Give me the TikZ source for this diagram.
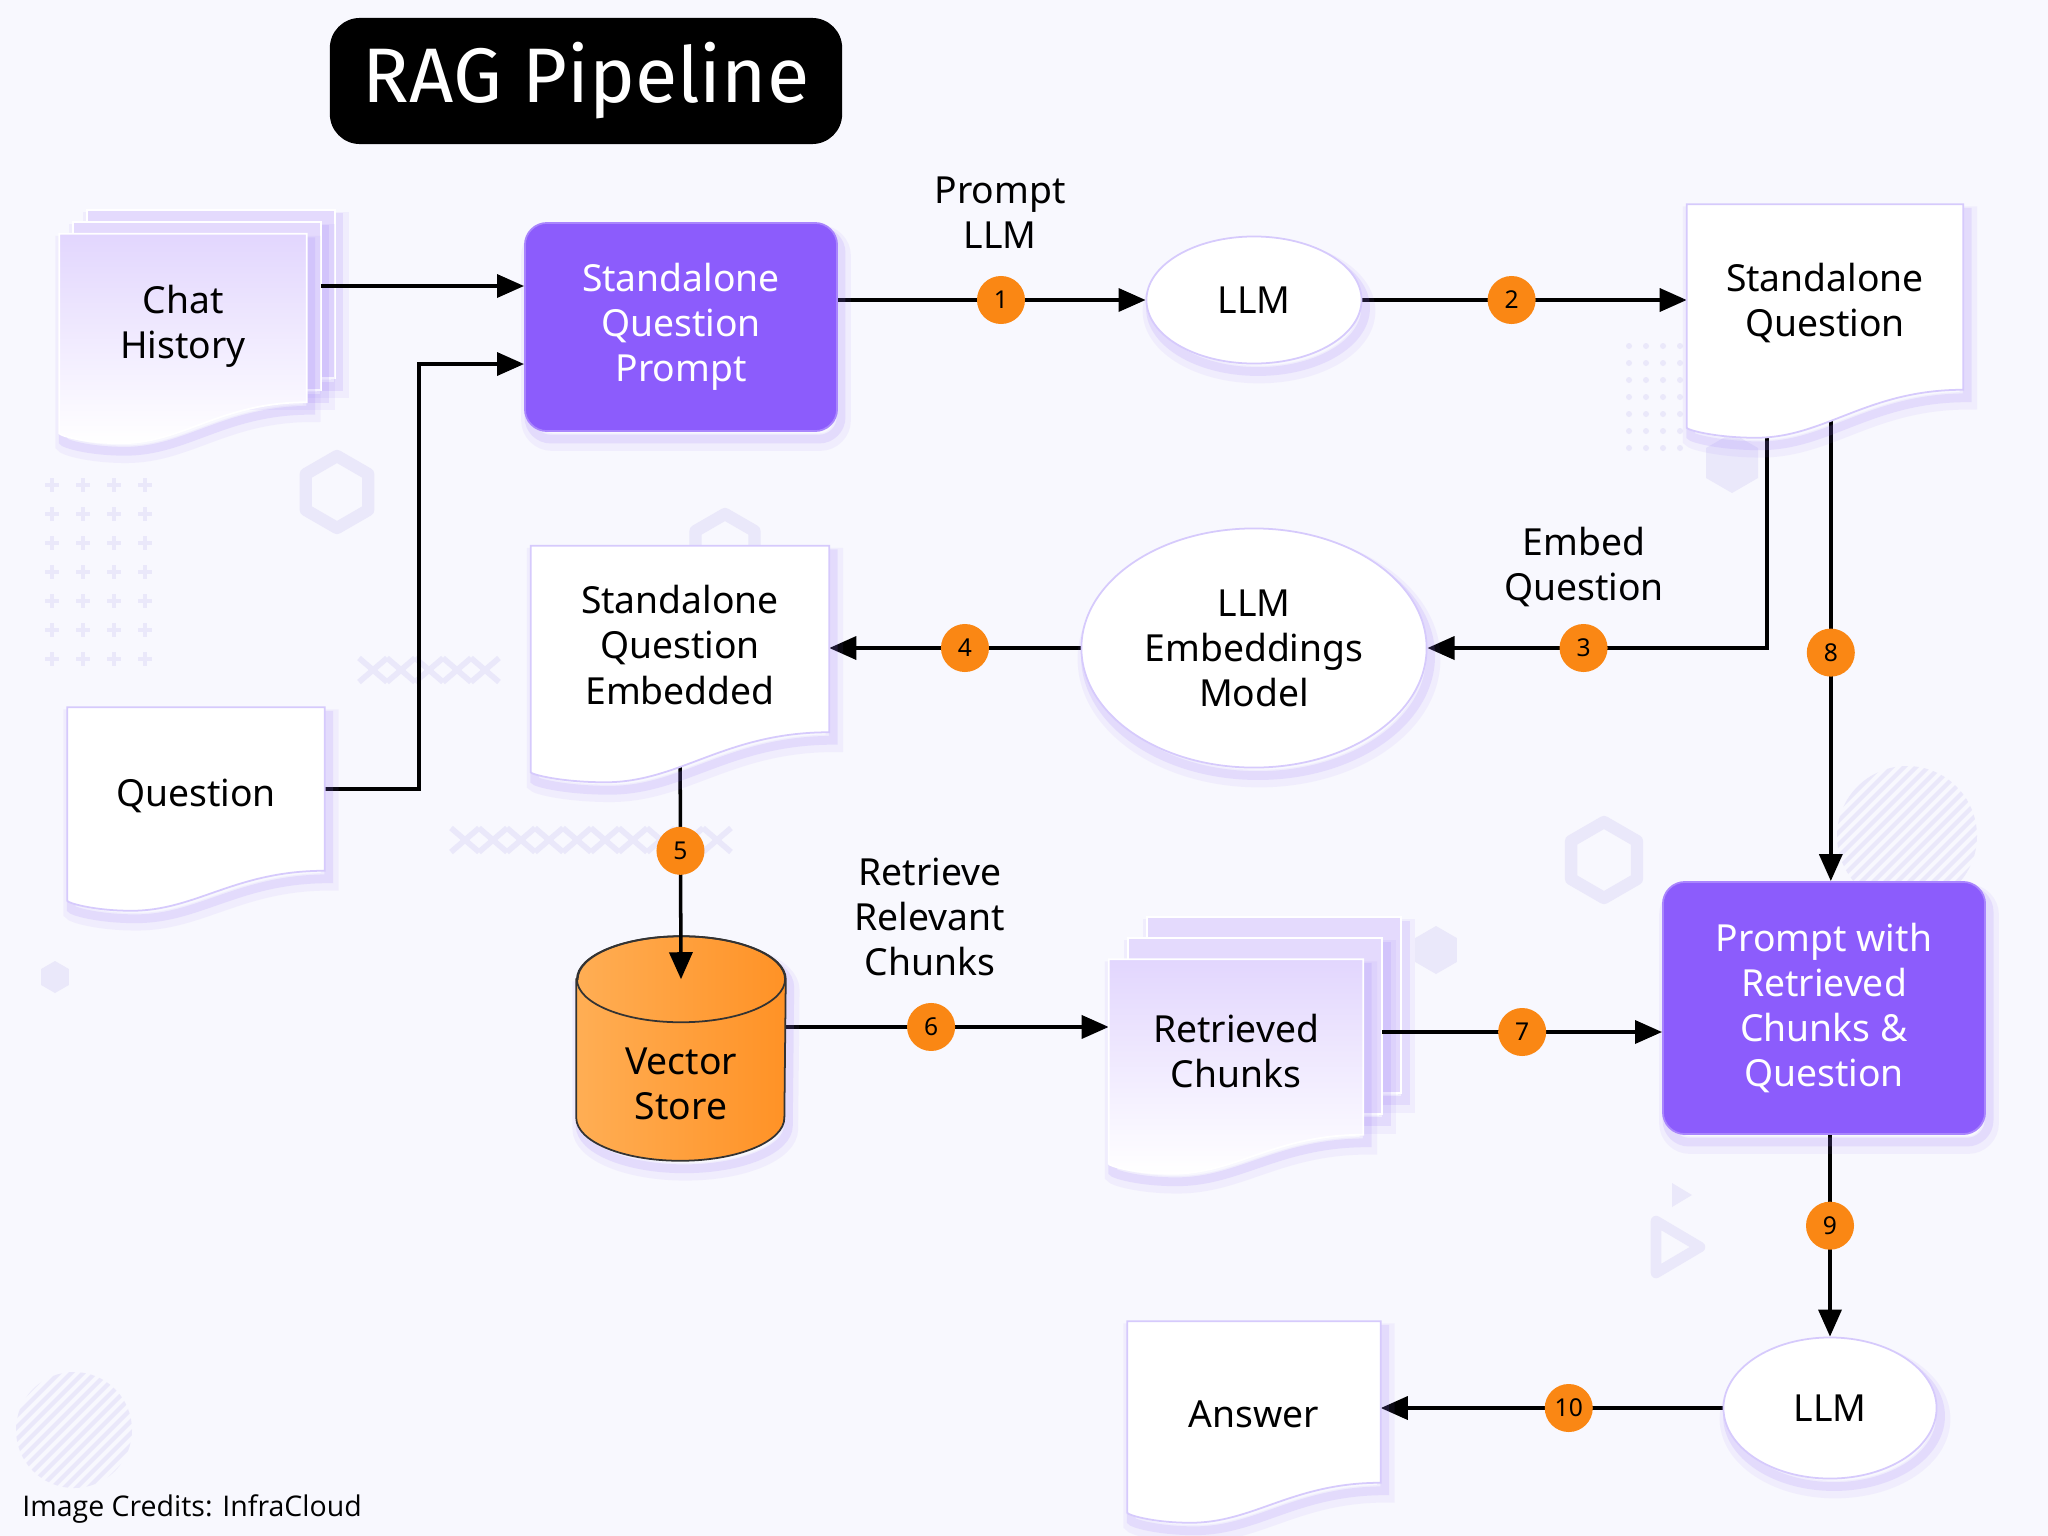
\documentclass[tikz,border=0pt]{standalone}
\usepackage{fontspec}
\setmainfont{Noto Sans}
\newfontfamily\titlefont{Fira Sans}
\newfontfamily\creditfont{Open Sans}
\usetikzlibrary{shapes.geometric,arrows.meta,calc}

\definecolor{pagebg}{RGB}{248,248,254}
\definecolor{ragpurple}{RGB}{140,92,252}
\definecolor{badgeorange}{RGB}{250,135,20}
\definecolor{sheetc}{RGB}{228,218,253}
\definecolor{doctop}{RGB}{226,214,254}
\definecolor{docedge}{RGB}{214,202,252}
\definecolor{glow}{RGB}{150,116,250}
\definecolor{cylleft}{RGB}{255,174,84}
\definecolor{cylright}{RGB}{255,146,38}
\definecolor{decoc}{RGB}{234,232,250}

\pgfdeclarelayer{deco}
\pgfdeclarelayer{links}
\pgfsetlayers{deco,links,main}

\newcommand{\nodefont}{\fontsize{10.6pt}{12.8pt}\selectfont}
\newcommand{\badgefont}{\fontsize{7pt}{8pt}\selectfont}

% document outline with wavy bottom: #1 node, #2 depth of the wave
\newcommand{\docpath}[2]{(#1.north west) -- (#1.north east) -- (#1.south east)
  .. controls ($(#1.south east)!0.35!(#1.south west)$) and ($(#1.south east)!0.5!(#1.south west)+(0,#2)$)
  .. ($(#1.south east)!0.75!(#1.south west)+(0,#2)$)
  .. controls ($(#1.south east)!0.9!(#1.south west)+(0,#2)$) and ($(#1.south west)+(0,#2-8)$)
  .. ($(#1.south west)+(0,#2-10)$) -- cycle}

% two sheets behind a stacked document: #1 node, #2/#3 offset
\newcommand{\backsheets}[3]{%
  \foreach \k in {2,1}
    \path[sheet] ($(#1.north west)+(\k*#2,\k*#3)$) rectangle ($(#1.south east)+(\k*#2,\k*#3)$);}

\tikzset{
  halo/.style={
    preaction={draw=glow, line width=5pt, draw opacity=0.08, fill opacity=0,
      transform canvas={xshift=0.05cm, yshift=-0.11cm}},
    preaction={draw=glow, line width=2.5pt, draw opacity=0.14, fill opacity=0,
      transform canvas={xshift=0.04cm, yshift=-0.08cm}}},
  docbody/.style={rectangle, inner sep=0pt, align=center, font=\nodefont},
  plaindoc/.style={halo, fill=white, draw=docedge, line width=0.5pt},
  shadeddoc/.style={halo, top color=doctop, bottom color=white, draw=white, line width=0.5pt},
  sheet/.style={halo, fill=sheetc, draw=white, line width=0.6pt},
  stepbox/.style={halo, rectangle, rounded corners=0.22cm, fill=ragpurple, text=white, align=center,
      font=\nodefont, draw=ragpurple!75!white, line width=0.5pt},
  llmnode/.style={halo, ellipse, fill=white, draw=docedge, line width=0.5pt, inner sep=0pt,
      align=center, font=\nodefont},
  badge/.style={circle, fill=badgeorange, minimum size=0.48cm, inner sep=0pt, font=\badgefont},
  arr/.style={line width=1pt, -{Triangle[length=0.27cm, width=0.23cm]}},
  lbl/.style={align=center, font=\nodefont},
}

\begin{document}
\begin{tikzpicture}[x=0.01cm, y=-0.01cm]
  \useasboundingbox (0,0) rectangle (2048,1536);

  % document frames
  \node[docbody, minimum width=2.46cm, minimum height=1.67cm] (chat) at (183,318) {};
  \node[docbody, minimum width=2.56cm, minimum height=1.62cm] (question) at (196,789) {};
  \node[docbody, minimum width=2.97cm, minimum height=1.85cm] (sqe) at (680,639) {};
  \node[docbody, minimum width=2.75cm, minimum height=1.84cm] (sq) at (1825,297) {};
  \node[docbody, minimum width=2.53cm, minimum height=1.74cm] (chunks) at (1236,1047) {};
  \node[docbody, minimum width=2.52cm, minimum height=1.60cm] (answer) at (1254,1402) {};
  \node[docbody, minimum width=2.08cm, minimum height=1.52cm] (vs) at (681,1084) {};

  \coordinate (chatout) at ($(chat.east)+(14,-32)$);
  \coordinate (s3) at ([xshift=0.8cm]sq.south west);
  \coordinate (s8) at ([xshift=1.44cm]sq.south west);
  \coordinate (vstop) at ([yshift=0.28cm]vs.north);
  \coordinate (vsout) at ([yshift=0.57cm]vs.east);
  \coordinate (chout) at ($(chunks.east)+(19,-15)$);

  % vector store
  \path[halo, left color=cylleft, right color=cylright, draw=black!80, line width=0.5pt]
    ($(vs.north west)+(0,-28)$) -- ($(vs.south west)+(0,-43)$)
    arc[start angle=180, end angle=360, x radius=1.04cm, y radius=0.43cm]
    -- ($(vs.north east)+(0,-28)$)
    arc[start angle=0, end angle=180, x radius=1.04cm, y radius=0.43cm] -- cycle;
  \draw[black!80, line width=0.5pt] (vstop) ellipse[x radius=1.04cm, y radius=0.43cm];
  \draw[arr] (sqe.south) -- node[badge, pos=0.48] (b5) {5} (vstop);

  % document shapes
  \backsheets{chat}{14}{-12}
  \path[shadeddoc] \docpath{chat}{41};
  \path[plaindoc] \docpath{question}{40};
  \path[plaindoc] \docpath{sqe}{50};
  \path[plaindoc] \docpath{sq}{48};
  \backsheets{chunks}{19}{-21}
  \path[shadeddoc] \docpath{chunks}{39};
  \path[plaindoc] \docpath{answer}{40};

  \node[docbody] (chattxt) at ([yshift=-0.08cm]chat) {Chat\\History};
  \node[docbody] (questiontxt) at ([yshift=-0.07cm]question) {Question};
  \node[docbody] (sqetxt) at ([yshift=-0.06cm]sqe) {Standalone\\Question\\Embedded};
  \node[docbody] (sqtxt) at ([yshift=-0.06cm]sq) {Standalone\\Question};
  \node[docbody] (chunkstxt) at ([yshift=-0.04cm]chunks) {Retrieved\\Chunks};
  \node[docbody] (answertxt) at ([yshift=-0.12cm]answer) {Answer};
  \node[docbody] (vstxt) at (vs) {Vector\\Store};

  % steps
  \node[stepbox, minimum width=3.12cm, minimum height=2.08cm] (sqp) at (681,327) {Standalone\\Question\\Prompt};
  \node[stepbox, minimum width=3.22cm, minimum height=2.52cm] (pwr) at (1824,1008) {Prompt with\\Retrieved\\Chunks \&\\Question};
  \node[llmnode, minimum width=2.15cm, minimum height=1.27cm] (llmA) at (1254,300) {LLM};
  \node[llmnode, minimum width=3.45cm, minimum height=2.39cm] (emb) at (1254,648) {LLM\\Embeddings\\Model};
  \node[llmnode, minimum width=2.13cm, minimum height=1.41cm] (llmB) at (1830,1408) {LLM};
  \coordinate (sqin) at ([yshift=-0.37cm]sqp.west);

  \draw[arr] (chatout) -- (chatout -| sqp.west);
  \draw[arr] (chout) -- node[badge, pos=0.5] (b7) {7} (chout -| pwr.west);

  % title and labels
  \node[fill=black, rounded corners=0.3cm, minimum width=5.12cm, minimum height=1.26cm,
        text=white, font=\titlefont\fontsize{22pt}{26pt}\selectfont] (title) at (586,81) {RAG Pipeline};
  \node[lbl] (lprompt) at (1000,213) {Prompt\\LLM};
  \node[lbl] (lembed) at (1584,567) {Embed\\Question};
  \node[lbl] (lretrieve) at (930,917) {Retrieve\\Relevant\\Chunks};
  \node[anchor=west, font=\creditfont\fontsize{8.1pt}{9pt}\selectfont] (credit) at (10,1509) {Image Credits: InfraCloud};

  \begin{pgfonlayer}{links}
    \draw[arr] (question.east) -- ++(94,0) |- (sqin);
    \draw[arr] (sqp.east |- llmA) -- node[badge, pos=0.53] (b1) {1} (llmA.west);
    \draw[arr] (llmA.east) -- node[badge, pos=0.46] (b2) {2} (llmA.east -| sq.west);
    \draw[arr] (s3) |- node[badge, pos=0.77] (b3) {3} (emb.east);
    \draw[arr] (emb.west) -- node[badge, pos=0.46] (b4) {4} (emb.west -| sqe.east);
    \draw[arr] (vsout) -- node[badge, pos=0.45] (b6) {6} (vsout -| chunks.west);
    \draw[arr] (s8) -- node[badge, pos=0.535] (b8) {8} (s8 |- pwr.north);
    \draw[arr] (pwr.south -| llmB) -- node[badge, pos=0.45] (b9) {9} (llmB.north);
    \draw[arr] (llmB.west) -- node[badge, pos=0.45] (b10) {10} (llmB.west -| answer.east);
  \end{pgfonlayer}

  % faint background ornaments
  \begin{pgfonlayer}{deco}
    \fill[pagebg] (0,0) rectangle (2048,1536);
    \foreach \cx/\cy/\r in {337/492/36, 1604/860/38, 725/548/34}
      \draw[decoc, line width=3.5pt, line join=round] ($(\cx,\cy)+(30:\r)$) -- ($(\cx,\cy)+(90:\r)$)
        -- ($(\cx,\cy)+(150:\r)$) -- ($(\cx,\cy)+(210:\r)$) -- ($(\cx,\cy)+(270:\r)$) -- ($(\cx,\cy)+(330:\r)$) -- cycle;
    \foreach \cx/\cy/\r in {55/977/16, 1436/950/24, 1732/463/30}
      \fill[decoc] ($(\cx,\cy)+(30:\r)$) -- ($(\cx,\cy)+(90:\r)$)
        -- ($(\cx,\cy)+(150:\r)$) -- ($(\cx,\cy)+(210:\r)$) -- ($(\cx,\cy)+(270:\r)$) -- ($(\cx,\cy)+(330:\r)$) -- cycle;
    \foreach \i in {0,...,3}
      \foreach \j in {0,...,6}
        \draw[decoc, line width=1.4pt] (52+31*\i,485+29*\j) +(-7,0) -- +(7,0) +(0,-7) -- +(0,7);
    \foreach \i in {0,...,3}
      \foreach \j in {0,...,6}
        \fill[decoc] (1629+17*\i,346+17*\j) circle[radius=0.03cm];
    \foreach \cx/\cy/\r in {74/1430/58, 1907/836/70} {
      \begin{scope}
        \clip (\cx,\cy) circle[radius=\r*0.01cm];
        \foreach \t in {-12,...,12}
          \draw[decoc, line width=1.2pt] (\cx+\t*12-100,\cy+100) -- (\cx+\t*12+100,\cy-100);
      \end{scope}}
    \draw[decoc, line width=3pt, line join=round] (1656,1221) -- (1700,1247) -- (1656,1273) -- cycle;
    \fill[decoc] (1672,1183) -- (1692,1195) -- (1672,1207) -- cycle;
    \foreach \xa/\n/\yc in {359/5/670, 451/10/840}
      \foreach \k in {1,...,\n} {
        \draw[decoc, line width=1.6pt] (\xa+28*\k-28,\yc-12) -- ++(28,24);
        \draw[decoc, line width=1.6pt] (\xa+28*\k-28,\yc+12) -- ++(28,-24);}
  \end{pgfonlayer}
\end{tikzpicture}
\end{document}
